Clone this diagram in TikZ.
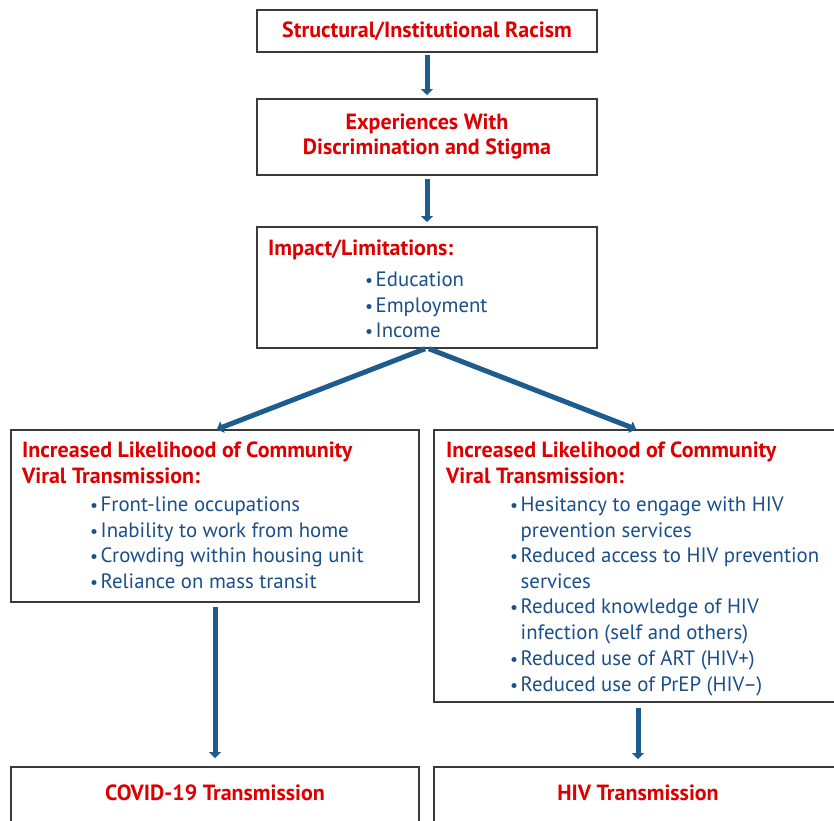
\documentclass[tikz,border=0pt]{standalone}
\usepackage{fontspec}
\setmainfont{PT Sans}
\usetikzlibrary{arrows.meta}
\definecolor{tred}{HTML}{DD0000}
\definecolor{tblue}{HTML}{1A4F8A}
\definecolor{ablue}{HTML}{1D5C8D}
\definecolor{boxgray}{HTML}{3A3A3A}
\newcommand\mybul{\makebox[10.5pt][l]{\scalebox{0.85}{•}}}
\begin{document}
\begin{tikzpicture}[x=1pt,y=-1pt,
  box/.style={draw=boxgray,line width=1.3pt,fill=white,anchor=north west,inner sep=0pt,outer sep=0pt},
  ttl/.style={font=\fontsize{22}{26}\selectfont\bfseries,text=tred,inner sep=0pt},
  itm/.style={font=\fontsize{20.8}{25}\selectfont,text=tblue,inner sep=0pt,anchor=mid west},
  arr/.style={draw=ablue,line width=5pt,-{Triangle[width=12pt,length=6pt]}}]
\useasboundingbox (0,0) rectangle (834,820);
\clip (0,0) rectangle (834,820);
% boxes
\node[box,minimum width=340pt,minimum height=42pt] (b1) at (257,10) {};
\node[box,minimum width=340pt,minimum height=76pt] (b2) at (257,99) {};
\node[box,minimum width=340pt,minimum height=121pt] (b3) at (257,227) {};
\node[box,minimum width=408pt,minimum height=172pt] (lb) at (11,430) {};
\node[box,minimum width=408pt,minimum height=272pt] (rb) at (434,430) {};
\node[box,minimum width=408pt,minimum height=80pt] (cb) at (11,767) {};
\node[box,minimum width=408pt,minimum height=80pt] (hb) at (434,767) {};
% texts
\node[ttl,anchor=mid] (t1) at (427,35) {Structural/Institutional Racism};
\node[ttl,anchor=mid] (t2a) at (427,127) {Experiences With};
\node[ttl,anchor=mid] (t2b) at (427,152) {Discrimination and Stigma};
\node[ttl,anchor=mid west] (t3) at (268,253) {Impact/Limitations:};
\node[itm] (i1) at (365,284) {\mybul Education};
\node[itm] (i2) at (365,310) {\mybul Employment};
\node[itm] (i3) at (365,335) {\mybul Income};
\node[ttl,anchor=mid west] (lt1) at (22,455) {Increased Likelihood of Community};
\node[ttl,anchor=mid west] (lt2) at (22,481) {Viral Transmission:};
\node[itm] (l1) at (90,509) {\mybul Front-line occupations};
\node[itm] (l2) at (90,535) {\mybul Inability to work from home};
\node[itm] (l3) at (90,560) {\mybul Crowding within housing unit};
\node[itm] (l4) at (90,586) {\mybul Reliance on mass transit};
\node[ttl,anchor=mid west] (rt1) at (446,455) {Increased Likelihood of Community};
\node[ttl,anchor=mid west] (rt2) at (446,481) {Viral Transmission:};
\node[itm] (r1) at (510,509) {\mybul Hesitancy to engage with HIV};
\node[itm] (r2) at (510,535) {\hspace*{10.5pt}prevention services};
\node[itm] (r3) at (510,560) {\mybul Reduced access to HIV prevention};
\node[itm] (r4) at (510,586) {\hspace*{10.5pt}services};
\node[itm] (r5) at (510,611) {\mybul Reduced knowledge of HIV};
\node[itm] (r6) at (510,637) {\hspace*{10.5pt}infection (self and others)};
\node[itm] (r7) at (510,663) {\mybul Reduced use of ART (HIV+)};
\node[itm] (r8) at (510,689) {\mybul Reduced use of PrEP (HIV–)};
\node[ttl,anchor=mid] (ct) at (215,798) {COVID-19 Transmission};
\node[ttl,anchor=mid] (ht) at (638,798) {HIV Transmission};
% arrows
\draw[arr,shorten <=3pt,shorten >=4pt] (b1.south) -- (b2.north);
\draw[arr,shorten <=4pt,shorten >=5pt] (b2.south) -- (b3.north);
\draw[arr,shorten <=2pt,shorten >=2pt] (b3.south) -- (lb.north);
\draw[arr,shorten <=2pt,shorten >=2pt] (b3.south) -- (rb.north);
\draw[arr,shorten <=5pt,shorten >=9pt] (lb.south) -- (cb.north);
\draw[arr,shorten <=6pt,shorten >=8pt] (rb.south) -- (hb.north);
\end{tikzpicture}
\end{document}
